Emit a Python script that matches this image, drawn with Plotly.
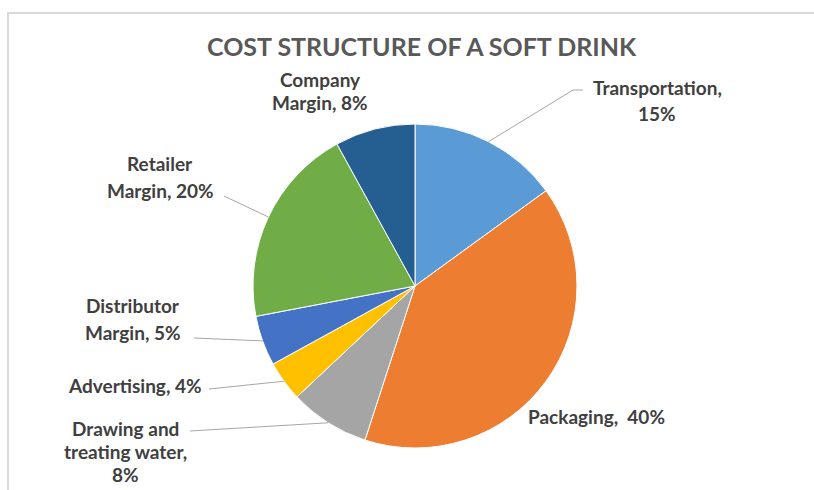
import math
import plotly.graph_objects as go

# Cost components, in drawing order (clockwise from 12 o'clock)
categories = ["Transportation", "Packaging", "Drawing and treating water",
              "Advertising", "Distributor Margin", "Retailer Margin", "Company Margin"]
shares = [15, 40, 8, 4, 5, 20, 8]
colors = ["#5B9BD5", "#ED7D31", "#A5A5A5", "#FFC000", "#4472C4", "#70AD47", "#255E91"]

# Label templates (line breaks as in the chart), filled with each share
label_templates = [
    "Transportation,<br>{v}%",
    "Packaging,  {v}%",
    "Drawing and<br>treating water,<br>{v}%",
    "Advertising, {v}%",
    "Distributor<br>Margin, {v}%",
    "Retailer<br>Margin, {v}%",
    "Company<br>Margin, {v}%",
]

W, H = 814, 490
PIE_CX, PIE_CY, PIE_R = 415, 286, 162  # pixel geometry of the pie


def px(x):
    return x / W


def py(y):
    return 1 - y / H


# Label placement: (center x, first line y, line spacing) in pixels
label_pos = [
    (657, 87, 26),
    (596, 416, 26),
    (125, 428, 23),
    (135, 385, 26),
    (133, 305, 27),
    (160, 163, 27),
    (320, 80, 23),
]
# leader line points near the label (None = no leader); last point is on the pie edge
leader_start = [
    [(583, 90), (573, 90)],
    None,
    [(190, 431)],
    [(209, 389)],
    [(194, 338)],
    [(224, 196)],
    None,
]

fig = go.Figure(go.Pie(
    labels=categories,
    values=shares,
    marker=dict(colors=colors, line=dict(color="white", width=1)),
    sort=False,
    direction="clockwise",
    rotation=0,
    textinfo="none",
    hoverinfo="label+percent",
    showlegend=False,
    domain=dict(x=[px(PIE_CX - PIE_R), px(PIE_CX + PIE_R)],
                y=[py(PIE_CY + PIE_R), py(PIE_CY - PIE_R)]),
))

annotations = [dict(
    text="COST STRUCTURE OF A SOFT DRINK",
    x=px(422), y=py(46), xref="paper", yref="paper",
    xanchor="center", yanchor="middle", showarrow=False,
    font=dict(family="Lato", size=25, color="#595959", weight="bold"),
)]

shapes = [
    # chart frame (top and left edges)
    dict(type="line", xref="paper", yref="paper", x0=px(7), y0=py(13), x1=1, y1=py(13),
         line=dict(color="#D9D9D9", width=2)),
    dict(type="line", xref="paper", yref="paper", x0=px(8), y0=py(13), x1=px(8), y1=0,
         line=dict(color="#D9D9D9", width=2)),
]

total = sum(shares)
cum = 0
for i, v in enumerate(shares):
    mid = (cum + v / 2) / total * 2 * math.pi
    cum += v
    ex = PIE_CX + PIE_R * math.sin(mid)
    ey = PIE_CY - PIE_R * math.cos(mid)

    cx, y0, step = label_pos[i]
    lines = label_templates[i].format(v=v).split("<br>")
    for k, line in enumerate(lines):
        annotations.append(dict(
            text=line, x=px(cx), y=py(y0 + k * step), xref="paper", yref="paper",
            xanchor="center", yanchor="middle", showarrow=False,
            font=dict(family="Lato", size=19, color="#404040", weight="bold"),
        ))

    if leader_start[i]:
        pts = leader_start[i] + [(ex, ey)]
        path = "M " + " L ".join(f"{px(a)},{py(b)}" for a, b in pts)
        shapes.append(dict(type="path", xref="paper", yref="paper", path=path,
                           line=dict(color="#A6A6A6", width=1)))

fig.update_layout(
    width=W, height=H,
    margin=dict(l=0, r=0, t=0, b=0),
    paper_bgcolor="white",
    plot_bgcolor="white",
    annotations=annotations,
    shapes=shapes,
)

fig.write_html("out.html")
